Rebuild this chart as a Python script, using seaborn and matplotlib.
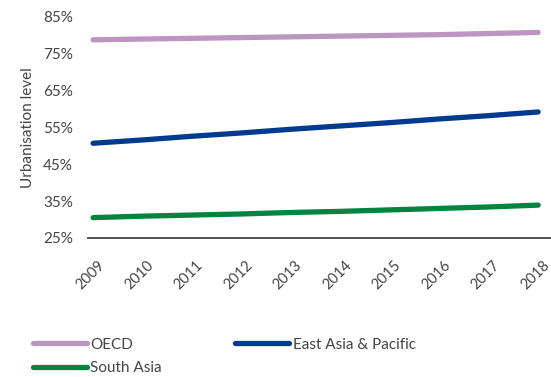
import matplotlib
matplotlib.use("Agg")
import matplotlib.pyplot as plt
import matplotlib.transforms as mtransforms
import seaborn as sns
import pandas as pd
from matplotlib.ticker import FuncFormatter

years = [2009, 2010, 2011, 2012, 2013, 2014, 2015, 2016, 2017, 2018]
oecd = [78.8, 79.0, 79.2, 79.4, 79.6, 79.8, 80.0, 80.2, 80.5, 80.8]
east_asia_pacific = [50.7, 51.6, 52.6, 53.5, 54.5, 55.4, 56.3, 57.3, 58.2, 59.2]
south_asia = [30.5, 30.9, 31.2, 31.5, 31.9, 32.2, 32.6, 33.0, 33.4, 33.9]
series_names = ["OECD", "East Asia & Pacific", "South Asia"]
colors = ["#BC95C0", "#003B8E", "#00843F"]

frames = []
for name, vals in zip(series_names, [oecd, east_asia_pacific, south_asia]):
    frames.append(pd.DataFrame({"pos": range(len(years)), "value": vals, "region": name}))
df = pd.concat(frames, ignore_index=True)

sns.set_theme(style="white")
plt.rcParams["font.family"] = ["Lato", "DejaVu Sans"]
text_color = "#444444"

fig = plt.figure(figsize=(5.51, 3.77), dpi=100)
ax = fig.add_axes([0.16, 0.369, 0.84, 0.586])

sns.lineplot(data=df, x="pos", y="value", hue="region", hue_order=series_names,
             palette=colors, linewidth=3.8, ax=ax, legend=False)
for line in ax.get_lines():
    line.set_solid_capstyle("round")

ax.set_ylim(25, 85)
ax.set_yticks(range(25, 86, 10))
ax.yaxis.set_major_formatter(FuncFormatter(lambda v, p: f"{v:.0f}%"))
ax.set_xlim(-0.1, 9.26)
ax.set_xticks(range(len(years)))
ax.set_xticklabels([str(y) for y in years], rotation=45, ha="center", va="center",
                   rotation_mode="anchor")
ax.tick_params(axis="y", length=0, labelsize=11, colors=text_color, pad=11)
ax.tick_params(axis="x", length=0, labelsize=10.5, colors=text_color, pad=27)
# slight leftward nudge keeps the last slanted year inside the canvas
shift = mtransforms.ScaledTranslation(-3 / 100, 0, fig.dpi_scale_trans)
for lbl in ax.get_xticklabels():
    lbl.set_transform(lbl.get_transform() + shift)

ax.set_xlabel("")
ax.set_ylabel("Urbanisation level", fontsize=11, color=text_color, labelpad=6)

for side in ["top", "right", "left"]:
    ax.spines[side].set_visible(False)
ax.spines["bottom"].set_color("#444444")
ax.spines["bottom"].set_linewidth(1.3)

# legend fills column-wise: OECD / South Asia on the left, East Asia & Pacific on the right
order = [0, 2, 1]
handles = [plt.Line2D([], [], color=colors[i], linewidth=3.8, solid_capstyle="round") for i in order]
labels = [series_names[i] for i in order]
leg = fig.legend(handles, labels, loc="upper left", bbox_to_anchor=(0.06, 0.104),
                 ncol=2, frameon=False, handlelength=3.5, handletextpad=0.25,
                 columnspacing=4.8, labelspacing=0.6, fontsize=11,
                 borderaxespad=0, borderpad=0)
for t in leg.get_texts():
    t.set_color(text_color)

fig.savefig("out.png", dpi=100)
